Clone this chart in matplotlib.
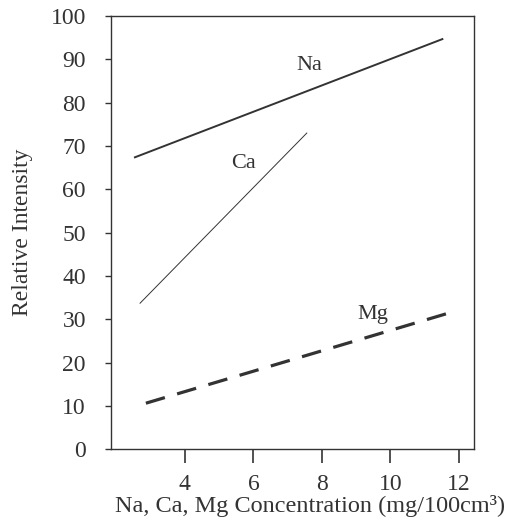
import matplotlib
matplotlib.use("Agg")
import matplotlib.pyplot as plt

plt.rcParams['font.family'] = ['Liberation Serif', 'DejaVu Serif']

# line end points
na_x = [2.54, 11.52]
na_y = [67.4, 94.7]
ca_x = [2.69, 7.56]
ca_y = [33.7, 73.0]
mg_x = [2.86, 11.78]
mg_y = [10.6, 31.6]

xticks = [4, 6, 8, 10, 12]
yticks = [0, 10, 20, 30, 40, 50, 60, 70, 80, 90, 100]

ink = '#333333'

fig = plt.figure(figsize=(5.09, 5.21), dpi=100)
ax = fig.add_axes([0.218, 0.138, 0.713, 0.831])

ax.plot(na_x, na_y, color=ink, lw=1.4)
ax.plot(ca_x, ca_y, color=ink, lw=0.7)
ax.plot(mg_x, mg_y, color=ink, lw=2.3, dashes=(6.2, 4.0))

ax.text(7.64, 88.7, 'Na', fontsize=16, color=ink, ha='center', va='center')
ax.text(5.7, 66, 'Ca', fontsize=16, color=ink, ha='center', va='center')
ax.text(9.48, 31, 'Mg', fontsize=16, color=ink, ha='center', va='center')

ax.set_xlim(1.84, 12.44)
ax.set_ylim(0, 100)
ax.set_xticks(xticks)
ax.set_yticks(yticks)
ax.tick_params(axis='x', direction='out', length=10, width=1.2, pad=8,
               labelsize=17, colors=ink)
ax.tick_params(axis='y', direction='out', length=4, width=1, pad=14,
               labelsize=17, colors=ink)
for s in ax.spines.values():
    s.set_color(ink)
    s.set_linewidth(1)

ax.set_xlabel('Na, Ca, Mg Concentration (mg/100cm³)', fontsize=17.5,
              color=ink)
ax.xaxis.set_label_coords(0.548, -0.105)
ax.set_ylabel('Relative Intensity', fontsize=17, color=ink, labelpad=13)

fig.savefig('out.png', dpi=100)
